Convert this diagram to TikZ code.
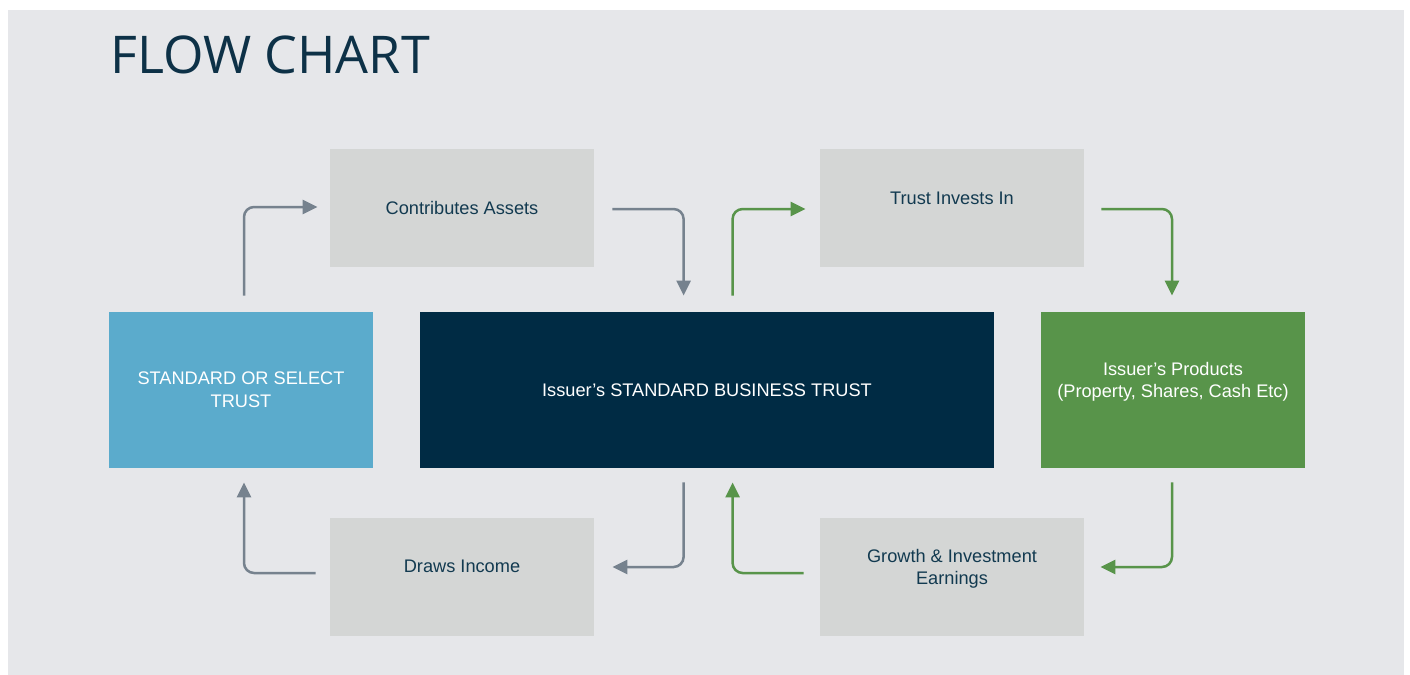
\documentclass[tikz,border=0pt]{standalone}
\usepackage{fontspec}
\setmainfont{Liberation Sans}
\newfontfamily\titlefont{Open Sans}
\usetikzlibrary{arrows.meta}
\definecolor{panel}{HTML}{E6E7EA}
\definecolor{boxgray}{HTML}{D4D6D5}
\definecolor{tblue}{HTML}{5BABCC}
\definecolor{tnavy}{HTML}{002B44}
\definecolor{tgreen}{HTML}{58944A}
\definecolor{txtnavy}{HTML}{123A50}
\definecolor{arrgray}{HTML}{76828E}
\definecolor{titlecol}{HTML}{0D3147}
\tikzset{
  box/.style={rectangle, inner sep=0pt, minimum width=132pt, minimum height=59pt,
    fill=boxgray, text=txtnavy, font=\fontsize{9.1}{11.3}\selectfont, align=center},
  cbox/.style={rectangle, inner sep=0pt, minimum width=132pt, minimum height=78pt,
    text=white, font=\fontsize{9.1}{11.3}\selectfont, align=center},
  arr/.style={line width=1.25pt, rounded corners=5pt,
    -{Triangle[length=7.5pt,width=7pt]}},
  garr/.style={arr, draw=arrgray},
  grarr/.style={arr, draw=tgreen},
}
\begin{document}
\begin{tikzpicture}[x=0.5pt,y=-0.5pt]
\useasboundingbox (0,0) rectangle (1410,675);
\fill[panel] (8,10) rectangle (1404,675);
\node[anchor=base west, inner sep=0pt, text=titlecol,
  font=\titlefont\fontsize{26}{28}\selectfont] (title) at (110,73) {FLOW CHART};

\node[cbox, fill=tblue] (blue) at (241,390) {STANDARD OR SELECT\\TRUST};
\node[cbox, fill=tnavy, minimum width=287pt] (navy) at (707,390) {Issuer’s STANDARD BUSINESS TRUST};
\node[cbox, fill=tgreen] (green) at (1173,390) {\raisebox{17pt}{\begin{tabular}{@{}c@{}}Issuer’s Products\\(Property, Shares, Cash Etc)\end{tabular}}};

\node[box] (contrib) at (462,208) {Contributes Assets};
\node[box] (invests) at (952,208) {\raisebox{10pt}{Trust Invests In}};
\node[box] (draws) at (462,577) {\raisebox{11pt}{Draws Income}};
\node[box] (growth) at (952,577) {\raisebox{17pt}{\begin{tabular}{@{}c@{}}Growth \& Investment\\Earnings\end{tabular}}};

\draw[garr] ([xshift=1.5pt,yshift=8pt]blue.north) |- ([xshift=-6pt,yshift=0.5pt]contrib.west);
\draw[garr] ([xshift=9pt,yshift=-0.5pt]contrib.east) -| ([xshift=132pt,yshift=8pt]navy.north west);
\draw[garr] ([xshift=132pt,yshift=-7pt]navy.south west) |- ([xshift=9pt,yshift=5pt]draws.east);
\draw[garr] ([xshift=-7pt,yshift=2pt]draws.west) -| ([xshift=1.5pt,yshift=-7pt]blue.south);

\draw[grarr] ([xshift=156.5pt,yshift=8pt]navy.north west) |- ([xshift=-7pt,yshift=-0.5pt]invests.west);
\draw[grarr] ([xshift=8.5pt,yshift=-0.5pt]invests.east) -| ([xshift=-0.5pt,yshift=8pt]green.north);
\draw[grarr] ([xshift=-0.5pt,yshift=-7pt]green.south) |- ([xshift=8pt,yshift=5pt]growth.east);
\draw[grarr] ([xshift=-8pt,yshift=2pt]growth.west) -| ([xshift=156.5pt,yshift=-7pt]navy.south west);
\end{tikzpicture}
\end{document}
